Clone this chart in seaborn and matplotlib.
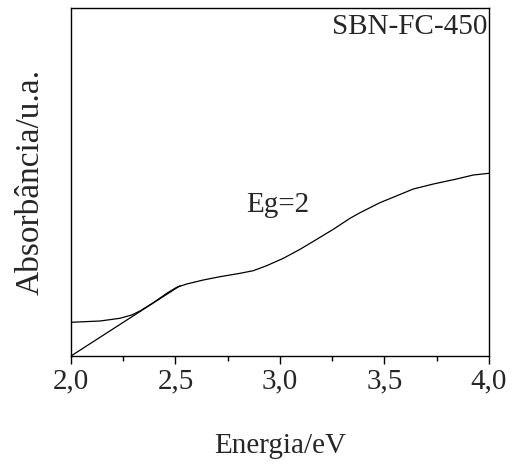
import matplotlib
matplotlib.use("Agg")
import matplotlib.pyplot as plt
import seaborn as sns
import pandas as pd
from matplotlib.ticker import MultipleLocator

sns.set_theme(style="white")
plt.rcParams['font.family'] = 'serif'
plt.rcParams['font.serif'] = ['Liberation Serif', 'DejaVu Serif']

energy = [2.000, 2.139, 2.234, 2.290, 2.330, 2.394, 2.458, 2.506, 2.554, 2.633,
          2.713, 2.809, 2.872, 2.936, 3.016, 3.096, 3.176, 3.255, 3.335, 3.383,
          3.478, 3.638, 3.734, 3.845, 3.925, 4.000]
absorb = [0.337, 0.350, 0.377, 0.410, 0.450, 0.533, 0.627, 0.687, 0.720, 0.760,
          0.793, 0.827, 0.853, 0.903, 0.977, 1.067, 1.167, 1.267, 1.377, 1.433,
          1.533, 1.670, 1.720, 1.770, 1.810, 1.827]
tangent_x = [2.000, 2.522]
tangent_y = [0.000, 0.703]
xticks = [2.0, 2.5, 3.0, 3.5, 4.0]
xticklabels = ["2,0", "2,5", "3,0", "3,5", "4,0"]

df = pd.DataFrame({"E": energy, "A": absorb})
dft = pd.DataFrame({"E": tangent_x, "A": tangent_y})

fig = plt.figure(figsize=(5.17, 4.69), dpi=100)
ax = fig.add_axes([71/517, 1-356/469, (489-71)/517, (356-8)/469])
sns.lineplot(data=df, x="E", y="A", ax=ax, color="black", linewidth=0.9)
sns.lineplot(data=dft, x="E", y="A", ax=ax, color="black", linewidth=0.9)

ax.set_xlim(2.0, 4.0)
ax.set_ylim(0, 3.48)
ax.set_xticks(xticks)
ax.set_xticklabels(xticklabels, fontsize=21)
ax.xaxis.set_minor_locator(MultipleLocator(0.25))
ax.set_yticks([])
ax.tick_params(axis="x", which="major", direction="out", length=6, width=1, color="black", bottom=True, pad=3)
ax.tick_params(axis="x", which="minor", direction="out", length=3.5, width=1, color="black", bottom=True)
for s in ax.spines.values():
    s.set_color("black")
    s.set_linewidth(1)

ax.set_xlabel("Energia/eV", fontsize=21, labelpad=28)
ax.set_ylabel("Absorbância/u.a.", fontsize=24, labelpad=18)
ax.text(0.995, 0.945, "SBN-FC-450", transform=ax.transAxes, ha="right", va="center", fontsize=21)
ax.text(0.42, 0.435, "Eg=2", transform=ax.transAxes, ha="left", va="center", fontsize=21)

fig.savefig("out.png", dpi=100)
